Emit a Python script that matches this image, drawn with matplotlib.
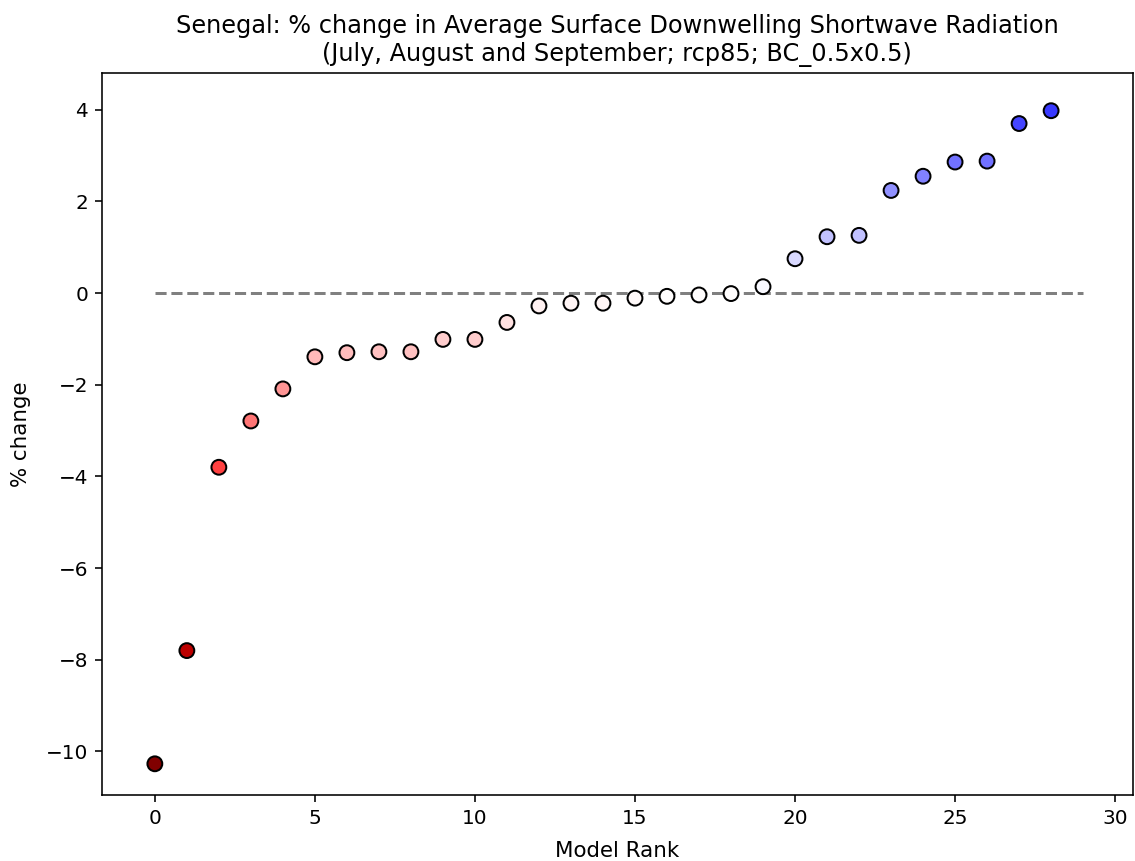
import matplotlib
matplotlib.use("Agg")
import matplotlib.pyplot as plt
import matplotlib.colors as mcolors
import numpy as np

ranks = list(range(29))
pct_change = [-10.27, -7.80, -3.80, -2.79, -2.09, -1.39, -1.30, -1.28, -1.28,
              -1.01, -1.01, -0.64, -0.28, -0.22, -0.22, -0.11, -0.07, -0.04,
              -0.01, 0.14, 0.75, 1.23, 1.26, 2.24, 2.55, 2.86, 2.88, 3.70, 3.98]

title = ("Senegal: % change in Average Surface Downwelling Shortwave Radiation\n"
         "(July, August and September; rcp85; BC_0.5x0.5)")

DPI = 144
fig = plt.figure(figsize=(1135 / DPI, 861 / DPI), dpi=DPI)
ax = fig.add_axes([0.0899, 0.0767, 0.998 - 0.0899, 0.9156 - 0.0767])

vmax = max(abs(v) for v in pct_change)
norm = mcolors.Normalize(vmin=-vmax, vmax=vmax)
ax.plot([0, 29], [0, 0], color="grey", linestyle="--", linewidth=1.5, zorder=1)
ax.scatter(ranks, pct_change, c=pct_change, cmap="seismic_r", norm=norm,
           s=55, edgecolors="black", linewidths=1.0, zorder=2)

ax.set_xlim(-1.65, 30.55)
ax.set_ylim(-10.95, 4.81)
ax.set_xticks([0, 5, 10, 15, 20, 25, 30])
ax.set_yticks([-10, -8, -6, -4, -2, 0, 2, 4])
ax.tick_params(labelsize=10)
ax.set_xlabel("Model Rank", fontsize=10.7, labelpad=6.5)
ax.set_ylabel("% change", fontsize=10.7, labelpad=7.5)
ax.set_title(title, fontsize=12)

fig.savefig("out.png", dpi=DPI)
